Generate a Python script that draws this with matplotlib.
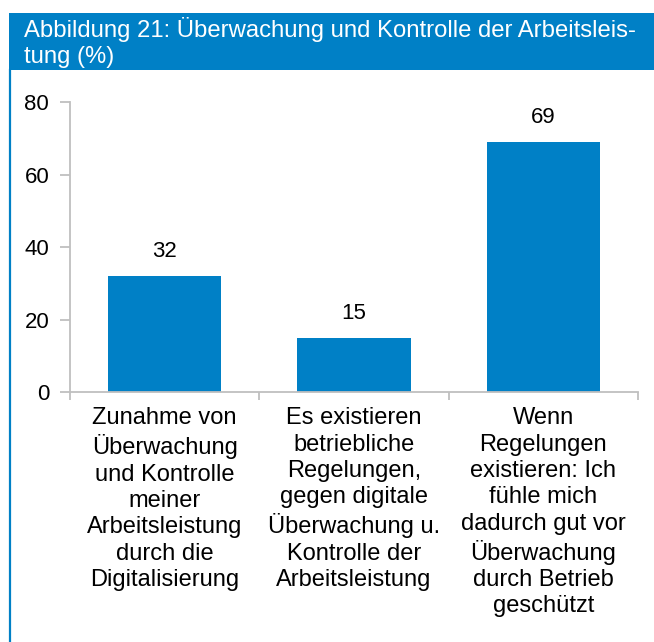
import matplotlib
matplotlib.use("Agg")
import matplotlib.pyplot as plt
from matplotlib.patches import Rectangle
from matplotlib.lines import Line2D

categories = [
    "Zunahme von\nÜberwachung\nund Kontrolle\nmeiner\nArbeitsleistung\ndurch die\nDigitalisierung",
    "Es existieren\nbetriebliche\nRegelungen,\ngegen digitale\nÜberwachung u.\nKontrolle der\nArbeitsleistung",
    "Wenn\nRegelungen\nexistieren: Ich\nfühle mich\ndadurch gut vor\nÜberwachung\ndurch Betrieb\ngeschützt",
]
values = [32, 15, 69]
yticks = [0, 20, 40, 60, 80]
title_lines = ["Abbildung 21: Überwachung und Kontrolle der Arbeitsleis-", "tung (%)"]

BLUE = "#0080C6"
GREY = "#BFBFBF"
W, H = 654, 642

plt.rcParams['font.family'] = ['Liberation Sans', 'DejaVu Sans']

fig = plt.figure(figsize=(W / 100, H / 100), dpi=100)
fig.patch.set_facecolor("white")

# Title bar and frame
fig.add_artist(Rectangle((9 / W, 1 - 70 / H), 1 - 9 / W, 57 / H, transform=fig.transFigure,
                         facecolor=BLUE, edgecolor="none", zorder=0))
fig.add_artist(Line2D([10 / W, 10 / W], [0, 1 - 70 / H], transform=fig.transFigure,
                      color=BLUE, lw=1.6))
fig.text(24 / W, 1 - 37 / H, title_lines[0], color="white", fontsize=17.2, va="baseline", ha="left")
fig.text(24 / W, 1 - 63 / H, title_lines[1], color="white", fontsize=17.2, va="baseline", ha="left")

ax = fig.add_axes([70 / W, 1 - 392 / H, (638 - 70) / W, (392 - 102.5) / H])
x = list(range(len(values)))
bars = ax.bar(x, values, width=0.6, color=BLUE, zorder=2)
ax.bar_label(bars, labels=[str(v) for v in values], padding=10, fontsize=16, color="black")

ax.set_xlim(-0.5, len(values) - 0.5)
ax.set_ylim(0, 80)
ax.set_yticks(yticks)
ax.set_yticklabels([str(t) for t in yticks], fontsize=16)
ax.tick_params(axis="y", length=7, width=1.3, color=GREY, pad=8, labelcolor="black")

ax.set_xticks([i - 0.5 for i in range(len(values) + 1)])
ax.set_xticklabels([])
ax.tick_params(axis="x", which="major", length=6, width=1.3, color=GREY)
ax.set_xticks(x, minor=True)
ax.set_xticklabels(categories, minor=True, fontsize=17, linespacing=1.255, ha="center", va="top")
ax.tick_params(axis="x", which="minor", length=0, pad=11, labelcolor="black")

for s in ["top", "right"]:
    ax.spines[s].set_visible(False)
for s in ["left", "bottom"]:
    ax.spines[s].set_color(GREY)
    ax.spines[s].set_linewidth(1.3)

fig.savefig("out.png", dpi=100)
